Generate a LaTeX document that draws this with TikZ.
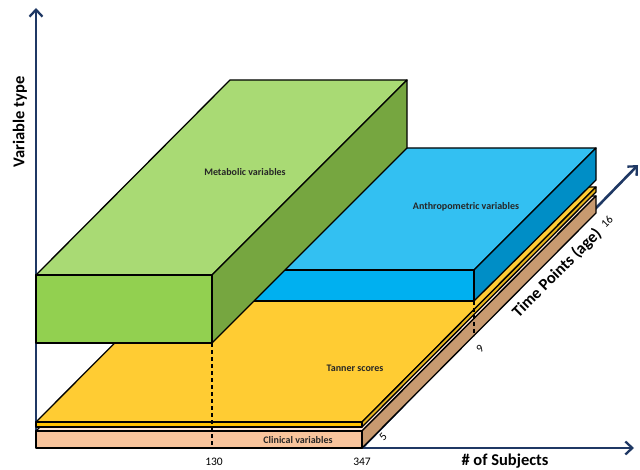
\documentclass[tikz,border=0pt]{standalone}
\usepackage{fontspec}
\setmainfont{Carlito}
\usetikzlibrary{arrows.meta}
\definecolor{axiscol}{RGB}{31,56,100}
\definecolor{gtop}{RGB}{169,218,116}
\definecolor{gfront}{RGB}{146,208,80}
\definecolor{gside}{RGB}{118,166,64}
\definecolor{btop}{RGB}{51,192,242}
\definecolor{bfront}{RGB}{0,176,240}
\definecolor{bside}{RGB}{0,142,198}
\definecolor{ytop}{RGB}{255,204,51}
\definecolor{yfront}{RGB}{255,192,0}
\definecolor{yside}{RGB}{230,180,30}
\definecolor{ctop}{RGB}{252,228,214}
\definecolor{cfront}{RGB}{248,196,156}
\definecolor{cside}{RGB}{200,154,112}
\tikzset{
  face/.style={draw=black,line width=1.3pt,line join=round},
  axisline/.style={draw=axiscol,line width=2.6pt,-{Straight Barb[length=7pt,width=13pt,line width=2.3pt]}},
  boxlabel/.style={font=\fontsize{10}{12}\selectfont\bfseries,text=black!85},
  axislabel/.style={font=\fontsize{16.5}{18}\selectfont\bfseries},
  ticklabel/.style={font=\fontsize{11.5}{13}\selectfont},
  marker/.style={draw=black,dashed,line width=1.2pt,dash pattern=on 4pt off 3pt}
}
\begin{document}
\begin{tikzpicture}[x=1pt,y=-1pt]
\useasboundingbox (0,0) rectangle (640,470);
% axes
\coordinate (O) at (36,448);
\coordinate (Ytip) at (36,8);
\coordinate (Xtip) at (634,448);
\coordinate (Zs) at (362,448);
\coordinate (Ztip) at (638,165);
\draw[axisline] (O) -- (Ytip);
\draw[axisline] (O) -- (Xtip);
\draw[axisline] (Zs) -- (Ztip);
% clinical slab
\draw[face,fill=ctop] (36,431) -- (362,431) -- (596,196) -- (270,196) -- cycle;
\draw[face,fill=cside] (362,431) -- (362,448) -- (596,213) -- (596,196) -- cycle;
\draw[face,fill=cfront] (36,431) rectangle (362,448);
% tanner slab
\draw[face,fill=ytop] (36,422) -- (362,422) -- (596,187) -- (270,187) -- cycle;
\draw[face,fill=yside] (362,422) -- (362,427) -- (596,192) -- (596,187) -- cycle;
\draw[face,fill=yfront] (36,422) rectangle (362,427);
% anthropometric box
\draw[face,fill=btop] (230,270) -- (474,270) -- (596,148) -- (352,148) -- cycle;
\draw[face,fill=bside] (474,270) -- (474,301) -- (596,180) -- (596,148) -- cycle;
\draw[face,fill=bfront] (230,270) rectangle (474,301);
% metabolic box
\draw[face,fill=gtop] (36,275) -- (212,275) -- (407,80) -- (230,80) -- cycle;
\draw[face,fill=gside] (212,275) -- (212,343) -- (407,148) -- (407,80) -- cycle;
\draw[face,fill=gfront] (36,275) rectangle (212,343);
% markers
\coordinate (m1a) at (212,343);
\coordinate (m1b) at (212,448);
\coordinate (m2a) at (474,301);
\coordinate (m2b) at (474,336);
\draw[marker] (m1a) -- (m1b);
\draw[marker] (m2a) -- (m2b);
% labels
\node[boxlabel] (lmet) at (245,172) {Metabolic variables};
\node[boxlabel] (lant) at (466,207) {Anthropometric variables};
\node[boxlabel] (ltan) at (355,368) {Tanner scores};
\node[boxlabel] (lcli) at (298,440) {Clinical variables};
\node[ticklabel] (t130) at (214,462) {130};
\node[ticklabel] (t347) at (362,462) {347};
\node[ticklabel,rotate=45] (t5) at (383,437) {5};
\node[ticklabel,rotate=45] (t9) at (480,349) {9};
\node[ticklabel,rotate=45] (t16) at (607,222) {16};
\node[axislabel] (lsub) at (505,461) {\# of Subjects};
\node[axislabel,rotate=90] (lvar) at (20,122) {Variable type};
\node[axislabel,rotate=45,inner sep=1pt] (ltime) at (557,273) {Time Points (age)};
\end{tikzpicture}
\end{document}
